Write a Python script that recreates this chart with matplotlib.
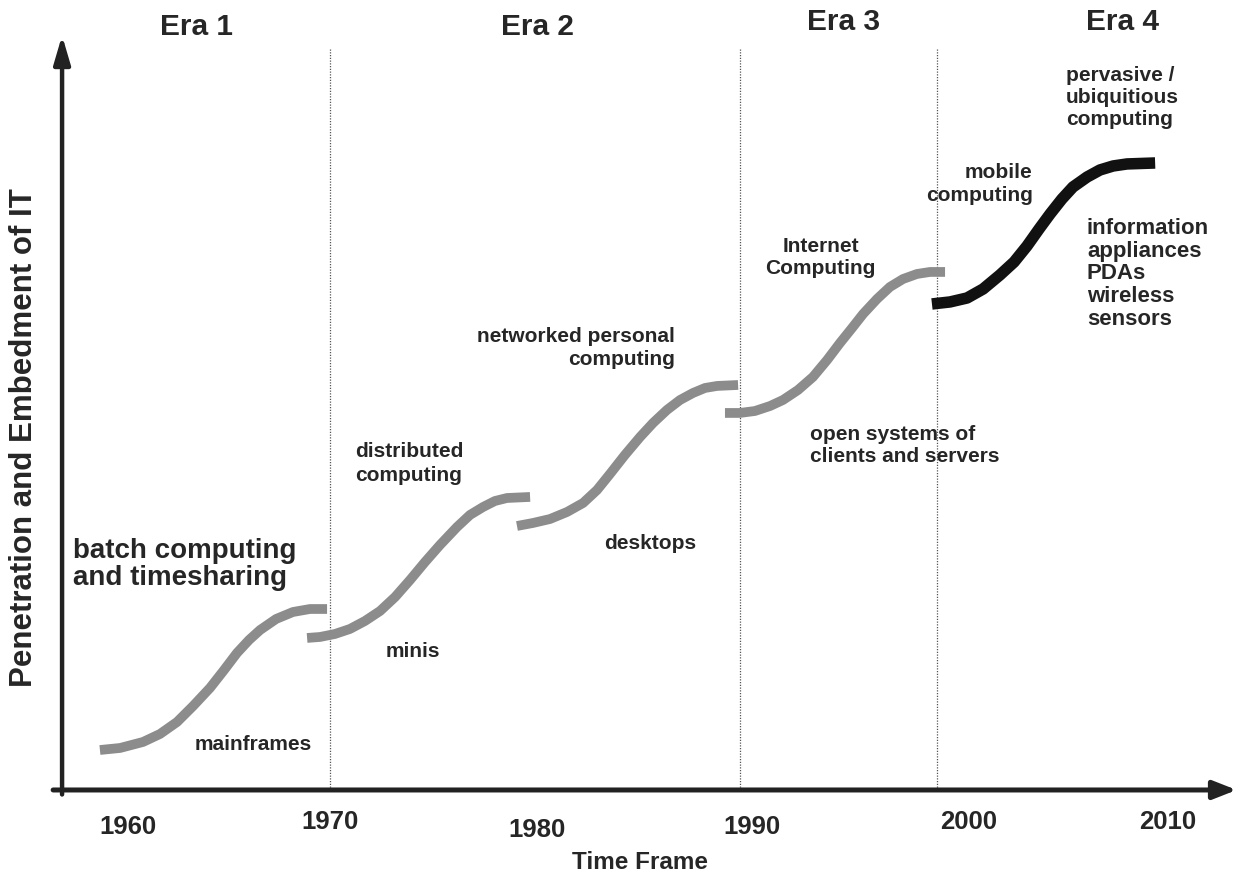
import matplotlib
matplotlib.use("Agg")
import matplotlib.pyplot as plt

plt.rcParams['font.family'] = ['Liberation Sans', 'DejaVu Sans']

# ---- data (years vs. penetration level) ----
mainframes_x = [1958.65, 1959.62, 1960.72, 1961.54, 1962.36, 1963.13, 1963.94, 1964.62,
                1965.24, 1965.82, 1966.35, 1967.12, 1967.93, 1968.75, 1969.57]
mainframes_y = [5.33, 5.60, 6.40, 7.47, 9.07, 11.20, 13.60, 16.00,
                18.27, 20.00, 21.33, 22.80, 23.73, 24.13, 24.13]

minis_x = [1968.61, 1969.23, 1969.95, 1970.67, 1971.39, 1972.12, 1972.84, 1973.56,
           1974.28, 1975.00, 1975.82, 1976.44, 1977.07, 1977.64, 1978.22, 1979.33]
minis_y = [20.27, 20.40, 20.80, 21.47, 22.53, 23.87, 25.73, 28.00,
           30.40, 32.67, 35.07, 36.67, 37.73, 38.53, 38.93, 39.07]

desktops_x = [1978.70, 1979.47, 1980.29, 1981.11, 1981.88, 1982.55, 1983.17, 1983.89,
              1984.62, 1985.24, 1985.91, 1986.54, 1987.16, 1987.74, 1988.32, 1989.33]
desktops_y = [35.20, 35.60, 36.13, 37.07, 38.27, 40.00, 42.13, 44.67,
              47.07, 48.93, 50.67, 52.00, 52.93, 53.60, 53.87, 54.00]

clientserver_x = [1988.70, 1989.42, 1990.14, 1990.87, 1991.49, 1992.21, 1992.93, 1993.61,
                  1994.23, 1994.81, 1995.34, 1996.01, 1996.63, 1997.26, 1997.93, 1998.56,
                  1999.28]
clientserver_y = [50.27, 50.27, 50.53, 51.20, 52.00, 53.33, 55.07, 57.33,
                  59.60, 61.60, 63.47, 65.47, 67.07, 68.13, 68.80, 69.07,
                  69.07]

pervasive_x = [1998.65, 1999.52, 2000.34, 2001.11, 2001.92, 2002.60, 2003.22, 2003.80,
               2004.33, 2004.90, 2005.43, 2006.11, 2006.73, 2007.36, 2008.03, 2009.38]
pervasive_y = [64.80, 65.07, 65.60, 66.80, 68.67, 70.40, 72.53, 74.80,
               76.80, 78.80, 80.40, 81.73, 82.67, 83.20, 83.47, 83.60]

era_boundaries = [1969.7, 1989.4, 1998.9]
era_labels = ["Era 1", "Era 2", "Era 3", "Era 4"]

tick_years = [1960, 1970, 1980, 1990, 2000, 2010]
tick_labels = ["1960", "1970", "1980", "1990", "2000", "2010"]

# ---- layout / style (positions, not data) ----
era_label_x = [1963.3, 1979.7, 1994.4, 2007.8]
era_label_y = [101.7, 101.7, 102.4, 102.4]
tick_label_dx = [0.0, -0.3, -0.35, 0.0, 0.4, 0.0]
tick_label_y = [-5.0, -4.3, -5.3, -5.0, -4.3, -4.3]

fig = plt.figure(figsize=(12.4, 8.76), dpi=100)
ax = fig.add_axes([0, 0, 1, 1])
ax.set_xlim(1953.846, 2013.46)
ax.set_ylim(-11.47, 105.33)
ax.set_axis_off()

txt = '#262626'
gray = '#8c8c8c'

# era divider lines
for xb in era_boundaries:
    ax.plot([xb, xb], [0, 98.9], color='#555555', lw=0.9, ls=(0, (1, 1.2)), zorder=1)

# axes arrows
ax.annotate('', xy=(2013.3, 0), xytext=(1956.4, 0),
            arrowprops=dict(arrowstyle='-|>,head_length=1.4,head_width=0.55',
                            lw=3.6, color='#222222', shrinkA=0, shrinkB=0), zorder=3)
ax.annotate('', xy=(1956.83, 100.6), xytext=(1956.83, -0.6),
            arrowprops=dict(arrowstyle='-|>,head_length=1.7,head_width=0.5',
                            lw=3.2, color='#222222', shrinkA=0, shrinkB=0), zorder=3)

# S-curves
for xs, ys in [(mainframes_x, mainframes_y), (minis_x, minis_y),
               (desktops_x, desktops_y), (clientserver_x, clientserver_y)]:
    ax.plot(xs, ys, color=gray, lw=7.0, solid_capstyle='butt',
            solid_joinstyle='round', zorder=2)
ax.plot(pervasive_x, pervasive_y, color='#111111', lw=8.3, solid_capstyle='butt',
        solid_joinstyle='round', zorder=2)

# era labels
for lab, xl, yl in zip(era_labels, era_label_x, era_label_y):
    ax.text(xl, yl, lab, fontsize=21.5, fontweight='bold', color=txt,
            ha='center', va='center')

# tick labels
for ty, tl, dx, yy in zip(tick_years, tick_labels, tick_label_dx, tick_label_y):
    ax.text(ty + dx, yy, tl, fontsize=18.5, fontweight='bold', color=txt,
            ha='center', va='center')

ax.text(1984.6, -9.7, "Time Frame", fontsize=17.5, fontweight='bold', color=txt,
        ha='center', va='center')
ax.text(1955.0, 47.0, "Penetration and Embedment of IT", fontsize=22.5,
        fontweight='bold', color=txt, ha='center', va='center', rotation=90)

# annotations
bold = dict(fontweight='bold', color=txt)
ax.text(1957.37, 30.1, "batch computing\nand timesharing", fontsize=20,
        ha='left', va='center', linespacing=1.05, **bold)
ax.text(1966.0, 6.0, "mainframes", fontsize=15, ha='center', va='center', **bold)
ax.text(1973.7, 18.4, "minis", fontsize=15, ha='center', va='center', **bold)
ax.text(1970.9, 43.5, "distributed\ncomputing", fontsize=15,
        ha='left', va='center', linespacing=1.3, **bold)
ax.text(1985.1, 32.9, "desktops", fontsize=15, ha='center', va='center', **bold)
ax.text(1986.3, 58.9, "networked personal\ncomputing", fontsize=15,
        ha='right', va='center', linespacing=1.25, **bold)
ax.text(1993.3, 71.0, "Internet\nComputing", fontsize=15,
        ha='center', va='center', linespacing=1.18, **bold)
ax.text(1992.8, 45.9, "open systems of\nclients and servers", fontsize=15,
        ha='left', va='center', linespacing=1.22, **bold)
ax.text(2003.5, 80.8, "mobile\ncomputing", fontsize=15,
        ha='right', va='center', linespacing=1.25, **bold)
ax.text(2005.1, 92.3, "pervasive /\nubiquitious\ncomputing", fontsize=15,
        ha='left', va='center', linespacing=1.2, **bold)
ax.text(2006.1, 68.8, "information\nappliances\nPDAs\nwireless\nsensors", fontsize=16,
        ha='left', va='center', linespacing=1.11, **bold)

fig.savefig("out.png", dpi=100, facecolor='white')
